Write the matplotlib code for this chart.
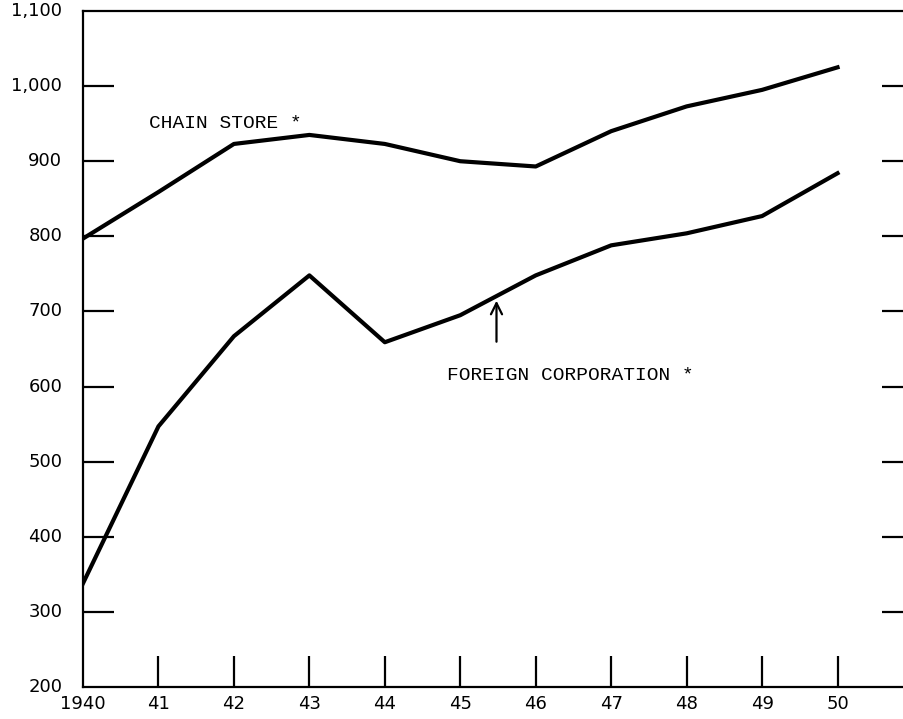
import matplotlib.pyplot as plt
import matplotlib.transforms as mtransforms

years = [1940, 1941, 1942, 1943, 1944, 1945, 1946, 1947, 1948, 1949, 1950]
chain_store = [797, 859, 923, 935, 923, 900, 893, 940, 973, 995, 1025]
foreign_corp = [338, 547, 667, 748, 659, 695, 748, 788, 804, 827, 884]

x_ticks = [1941, 1942, 1943, 1944, 1945, 1946, 1947, 1948, 1949, 1950]
x_labels = ['41', '42', '43', '44', '45', '46', '47', '48', '49', '50']
y_ticks = [200, 300, 400, 500, 600, 700, 800, 900, 1000, 1100]
y_labels = ['200', '300', '400', '500', '600', '700', '800', '900', '1,000', '1,100']

fig = plt.figure(figsize=(9.04, 7.19), dpi=100)
ax = fig.add_axes([83/904, 32/719, 830/904, 676/719])

ax.plot(years, chain_store, color='black', lw=3, solid_joinstyle='round')
ax.plot(years, foreign_corp, color='black', lw=3, solid_joinstyle='round')

ax.set_xlim(1940, 1951)
ax.set_ylim(200, 1100)

for s in ax.spines.values():
    s.set_linewidth(1.6)

# y ticks on both sides, pointing in; labels only on the left
ax.set_yticks(y_ticks[1:-1])
ax.set_yticklabels([])
ax.tick_params(axis='y', direction='in', length=22, width=1.6, left=True, right=True)
for v, lab in zip(y_ticks, y_labels):
    ax.text(-0.025, (v - 200) / 900, lab, transform=ax.transAxes,
            ha='right', va='center', fontsize=13)

ax.set_xticks(x_ticks)
ax.set_xticklabels(x_labels, fontsize=13)
ax.tick_params(axis='x', direction='in', length=22, width=1.6, pad=6)
off = mtransforms.ScaledTranslation(0, -6/72, fig.dpi_scale_trans)
ax.text(1940, 200, '1940', ha='center', va='top', fontsize=13,
        transform=ax.transData + off)

ax.text(1940.87, 950, 'CHAIN STORE *', family='Liberation Mono', fontsize=14,
        ha='left', va='center')
ax.text(1944.82, 615, 'FOREIGN CORPORATION *', family='Liberation Mono', fontsize=14,
        ha='left', va='center')
ax.annotate('', xy=(1945.48, 718), xytext=(1945.48, 656),
            arrowprops=dict(arrowstyle='->', color='black', lw=1.6, mutation_scale=20))

fig.savefig('out.png', dpi=100)
